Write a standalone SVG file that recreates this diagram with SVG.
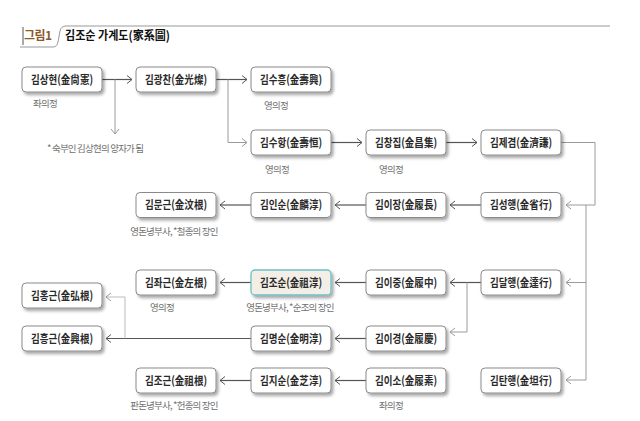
<svg xmlns="http://www.w3.org/2000/svg" width="640" height="421" viewBox="0 0 640 421">
<style>
.n rect{fill:#fff;stroke:#8a8a8a;stroke-width:1;filter:url(#sh)}
.n text{font-family:"Noto Sans CJK KR","Noto Sans",sans-serif;font-size:11.5px;font-weight:bold;fill:#2a2a2a;text-anchor:middle}
.hl rect{fill:#f3efe6;stroke:#6cc0c6;stroke-width:1.3}
.lb{font-family:"Noto Sans CJK KR","Noto Sans",sans-serif;font-size:9.5px;fill:#707070;letter-spacing:-0.8px}
.d{fill:none;stroke:#555;stroke-width:1.2;marker-end:url(#ad)}
.l{fill:none;stroke:#9a9a9a;stroke-width:1;marker-end:url(#al)}
</style>
<defs>
<filter id="sh" x="-20%" y="-30%" width="140%" height="170%">
<feDropShadow dx="2" dy="2.5" stdDeviation="1.6" flood-color="#000" flood-opacity="0.35"/>
</filter>
<marker id="ad" markerUnits="userSpaceOnUse" markerWidth="8" markerHeight="10" refX="5.5" refY="4.5" orient="auto">
<path d="M0.5,0.5 L5.5,4.5 L0.5,8.5" fill="none" stroke="#555" stroke-width="1"/>
</marker>
<marker id="al" markerUnits="userSpaceOnUse" markerWidth="8" markerHeight="10" refX="5.5" refY="4.5" orient="auto">
<path d="M0.5,0.5 L5.5,4.5 L0.5,8.5" fill="none" stroke="#9a9a9a" stroke-width="1"/>
</marker>
</defs>
<rect width="640" height="421" fill="#fff"/>
<g id="title">
<path d="M20,47 H53 Q57,47 58,42 L60,31 Q61,26 66,26 H610" fill="none" stroke="#999" stroke-width="1"/>
<line x1="23" y1="27" x2="23" y2="45" stroke="#555" stroke-width="1"/>
<text x="24" y="40" font-family="Noto Sans CJK KR,sans-serif" font-size="12px" font-weight="bold" fill="#8b5a2b" letter-spacing="-0.5">그림1</text>
<text x="65" y="40" font-family="Noto Sans CJK KR,sans-serif" font-size="12.5px" font-weight="bold" fill="#111" textLength="105" lengthAdjust="spacingAndGlyphs">김조순 가계도(家系圖)</text>
</g>
<g id="connectors">
<path class="d" d="M102,79.5 H132"/>
<path class="l" d="M115,79.5 V134"/>
<path class="d" d="M216,79.5 H247"/>
<path class="l" d="M228,79.5 V142.5 H247"/>
<path class="d" d="M331,142.5 H362"/>
<path class="d" d="M446,142.5 H477"/>
<path class="l" d="M561,142.5 H595 V205 H566"/>
<path class="l" d="M586,205 V380 H566"/>
<path class="l" d="M586,282.5 H566"/>
<path class="d" d="M481,205 H450"/>
<path class="d" d="M366,205 H335"/>
<path class="d" d="M251,205 H220"/>
<path class="d" d="M481,282.5 H450"/>
<path class="l" d="M467,282.5 V332 H450"/>
<path class="d" d="M366,282.5 H335"/>
<path class="d" d="M251,282.5 H220"/>
<path class="d" d="M366,338.5 H335"/>
<path class="d" d="M251,338.5 H106"/>
<path class="l" style="stroke:#bbb" d="M125,338.5 V297 H106"/>
<path class="d" d="M366,380.5 H335"/>
<path class="d" d="M251,380.5 H220"/>
</g>
<g id="n1" class="n"><rect x="22" y="67" width="80" height="25" rx="4"/><text x="62" y="83.5" textLength="62" lengthAdjust="spacingAndGlyphs">김상현(金尙憲)</text></g>
<g id="n2" class="n"><rect x="136" y="67" width="80" height="25" rx="4"/><text x="176" y="83.5" textLength="62" lengthAdjust="spacingAndGlyphs">김광찬(金光燦)</text></g>
<g id="n3" class="n"><rect x="251" y="67" width="80" height="25" rx="4"/><text x="291" y="83.5" textLength="62" lengthAdjust="spacingAndGlyphs">김수흥(金壽興)</text></g>
<g id="n4" class="n"><rect x="251" y="130" width="80" height="25" rx="4"/><text x="291" y="146.5" textLength="62" lengthAdjust="spacingAndGlyphs">김수항(金壽恒)</text></g>
<g id="n5" class="n"><rect x="366" y="130" width="80" height="25" rx="4"/><text x="406" y="146.5" textLength="62" lengthAdjust="spacingAndGlyphs">김창집(金昌集)</text></g>
<g id="n6" class="n"><rect x="481" y="130" width="80" height="25" rx="4"/><text x="521" y="146.5" textLength="62" lengthAdjust="spacingAndGlyphs">김제겸(金濟謙)</text></g>
<g id="n7" class="n"><rect x="136" y="192.5" width="80" height="25" rx="4"/><text x="176" y="209" textLength="62" lengthAdjust="spacingAndGlyphs">김문근(金汶根)</text></g>
<g id="n8" class="n"><rect x="251" y="192.5" width="80" height="25" rx="4"/><text x="291" y="209" textLength="62" lengthAdjust="spacingAndGlyphs">김인순(金麟淳)</text></g>
<g id="n9" class="n"><rect x="366" y="192.5" width="80" height="25" rx="4"/><text x="406" y="209" textLength="62" lengthAdjust="spacingAndGlyphs">김이장(金履長)</text></g>
<g id="n10" class="n"><rect x="481" y="192.5" width="80" height="25" rx="4"/><text x="521" y="209" textLength="62" lengthAdjust="spacingAndGlyphs">김성행(金省行)</text></g>
<g id="n11" class="n"><rect x="136" y="270" width="80" height="25" rx="4"/><text x="176" y="286.5" textLength="62" lengthAdjust="spacingAndGlyphs">김좌근(金左根)</text></g>
<g id="n12" class="n hl"><rect x="251" y="270" width="80" height="25" rx="4"/><text x="291" y="286.5" textLength="62" lengthAdjust="spacingAndGlyphs">김조순(金祖淳)</text></g>
<g id="n13" class="n"><rect x="366" y="270" width="80" height="25" rx="4"/><text x="406" y="286.5" textLength="62" lengthAdjust="spacingAndGlyphs">김이중(金履中)</text></g>
<g id="n14" class="n"><rect x="481" y="270" width="80" height="25" rx="4"/><text x="521" y="286.5" textLength="62" lengthAdjust="spacingAndGlyphs">김달행(金達行)</text></g>
<g id="n15" class="n"><rect x="22" y="283" width="80" height="25" rx="4"/><text x="62" y="299.5" textLength="62" lengthAdjust="spacingAndGlyphs">김홍근(金弘根)</text></g>
<g id="n16" class="n"><rect x="22" y="326" width="80" height="25" rx="4"/><text x="62" y="342.5" textLength="62" lengthAdjust="spacingAndGlyphs">김흥근(金興根)</text></g>
<g id="n17" class="n"><rect x="251" y="326" width="80" height="25" rx="4"/><text x="291" y="342.5" textLength="62" lengthAdjust="spacingAndGlyphs">김명순(金明淳)</text></g>
<g id="n18" class="n"><rect x="366" y="326" width="80" height="25" rx="4"/><text x="406" y="342.5" textLength="62" lengthAdjust="spacingAndGlyphs">김이경(金履慶)</text></g>
<g id="n19" class="n"><rect x="136" y="368" width="80" height="25" rx="4"/><text x="176" y="384.5" textLength="62" lengthAdjust="spacingAndGlyphs">김조근(金祖根)</text></g>
<g id="n20" class="n"><rect x="251" y="368" width="80" height="25" rx="4"/><text x="291" y="384.5" textLength="62" lengthAdjust="spacingAndGlyphs">김지순(金芝淳)</text></g>
<g id="n21" class="n"><rect x="366" y="368" width="80" height="25" rx="4"/><text x="406" y="384.5" textLength="62" lengthAdjust="spacingAndGlyphs">김이소(金履素)</text></g>
<g id="n22" class="n"><rect x="481" y="368" width="80" height="25" rx="4"/><text x="521" y="384.5" textLength="62" lengthAdjust="spacingAndGlyphs">김탄행(金坦行)</text></g>
<g id="labels">
<text class="lb" x="33" y="107">좌의정</text>
<text class="lb" x="264" y="108.5">영의정</text>
<text class="lb" x="47" y="151.5">* 숙부인 김상현의 양자가 됨</text>
<text class="lb" x="265" y="172.5">영의정</text>
<text class="lb" x="379" y="172.5">영의정</text>
<text class="lb" x="174" y="234.5" text-anchor="middle">영돈녕부사, *철종의 장인</text>
<text class="lb" x="150" y="311">영의정</text>
<text class="lb" x="290" y="311" text-anchor="middle">영돈녕부사, *순조의 장인</text>
<text class="lb" x="174" y="409" text-anchor="middle">판돈녕부사, *헌종의 장인</text>
<text class="lb" x="379" y="409">좌의정</text>
</g>
</svg>
